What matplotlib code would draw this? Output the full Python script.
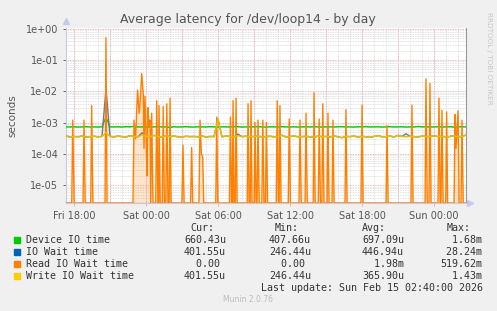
import numpy as np
import matplotlib
matplotlib.use("Agg")
import matplotlib.pyplot as plt
from matplotlib.ticker import NullFormatter

# time axis: hours since Fri 17:20, 5 min per pixel, 400 px wide
t_end = 33.333
tick_hours = [0.667, 6.667, 12.667, 18.667, 24.667, 30.667]
tick_labels = ["Fri 18:00", "Sat 00:00", "Sat 06:00", "Sat 12:00", "Sat 18:00", "Sun 00:00"]

# device io time / write io wait, sampled every 20 minutes (microseconds)
device_us = [
    730, 725, 735, 720, 730, 740, 725, 730, 720, 735,
    1500, 730, 725, 735, 720, 740, 730, 760, 725, 730,
    735, 720, 730, 745, 725, 730, 700, 735, 725, 730,
    740, 725, 720, 735, 730, 725, 740, 730, 720, 735,
    730, 725, 735, 740, 720, 730, 725, 735, 745, 730,
    720, 735, 730, 725, 740, 730, 725, 735, 720, 730,
    735, 725, 740, 730, 720, 735, 730, 725, 735, 740,
    725, 730, 720, 735, 730, 745, 725, 730, 735, 720,
    730, 740, 725, 730, 735, 720, 730, 725, 750, 730,
    735, 720, 730, 740, 725, 730, 735, 720, 730, 740,
    725]
write_us = [
    380, 340, 360, 350, 370, 345, 355, 365, 350, 360,
    480, 360, 350, 370, 355, 345, 380, 360, 350, 400,
    370, 355, 390, 360, 340, 380, 355, 370, 350, 345,
    365, 355, 360, 350, 375, 340, 360, 355, 1300, 350,
    370, 360, 345, 380, 355, 365, 350, 360, 370, 345,
    355, 365, 350, 360, 395, 345, 360, 370, 350, 355,
    365, 350, 340, 370, 355, 360, 345, 375, 350, 330,
    360, 355, 370, 345, 365, 350, 340, 360, 385, 350,
    355, 370, 345, 390, 360, 350, 365, 355, 345, 370,
    360, 350, 380, 355, 365, 345, 360, 375, 350, 360,
    400]
# io wait follows write wait except where reads dominate
iowait_us = list(write_us)
iowait_us[10] = 12000
iowait_us[19] = 470
iowait_us[43] = 430
iowait_us[85] = 440

# read io wait: mostly zero with spikes (hour, seconds)
read_t = [0.0, 0.48, 0.56, 0.68, 1.42, 1.5, 1.6, 2.06, 2.14, 2.24,
          3.25, 3.33, 3.42, 5.58, 5.67, 5.8, 5.96, 6.1, 6.17, 6.31,
          6.44, 6.5, 6.58, 6.68, 6.75, 6.83, 6.92, 7.0, 7.06, 7.14,
          7.25, 7.48, 7.56, 7.66, 7.72, 7.75, 7.85, 8.02, 8.1, 8.2,
          8.32, 8.4, 8.5, 8.6, 8.67, 8.76, 9.66, 9.75, 9.84, 10.38,
          10.47, 10.56, 11.08, 11.17, 11.28, 11.39, 11.48, 12.48, 12.56, 12.65,
          13.62, 13.7, 13.8, 13.86, 13.92, 14.0, 14.1, 14.17, 14.26, 15.1,
          15.17, 15.26, 15.35, 15.42, 15.5, 15.68, 15.75, 15.84, 15.92, 16.0,
          16.1, 16.32, 16.4, 16.5, 16.62, 16.7, 16.8, 17.52, 17.6, 17.7,
          17.76, 17.83, 17.92, 18.52, 18.6, 18.7, 19.42, 19.5, 19.6, 19.92,
          20.0, 20.1, 20.6, 20.67, 20.76, 21.02, 21.1, 21.2, 21.32, 21.4,
          21.5, 21.76, 21.83, 21.92, 22.17, 22.25, 22.34, 23.25, 23.33, 23.42,
          24.58, 24.67, 24.76, 26.67, 26.75, 26.84, 28.75, 28.83, 28.92, 29.92,
          30.0, 30.1, 30.25, 30.33, 30.42, 31.0, 31.08, 31.18, 31.25, 31.33,
          31.42, 31.64, 31.72, 31.8, 32.34, 32.42, 32.5, 32.67, 32.76, 32.92,
          33.0, 33.1, 33.333]
read_v = [0, 0, 1.2e-3, 0, 0, 1.2e-3, 0, 0, 3.5e-3, 0,
          0, 0.52, 0, 0, 1.2e-3, 3e-4, 1.1e-2, 2e-3, 4e-3, 3.7e-2,
          8e-3, 1.5e-4, 7e-3, 3e-4, 2e-5, 3e-3, 8e-4, 1.2e-3, 0, 2e-3,
          0, 0, 5e-3, 0, 0, 3.5e-3, 0, 0, 3.3e-3, 0,
          0, 4e-3, 0, 0, 6e-3, 0, 0, 1.9e-4, 0, 0,
          1.6e-4, 0, 0, 1.2e-3, 1e-4, 8e-5, 0, 0, 1.5e-3, 0,
          0, 1.5e-3, 0, 0, 5e-3, 0, 0, 6e-3, 0, 0,
          4e-3, 0, 0, 5e-3, 0, 0, 1e-3, 0, 0, 1.2e-3,
          0, 0, 1.2e-3, 0, 0, 1e-3, 0, 0, 5e-3, 0,
          0, 3.5e-3, 0, 0, 1.3e-3, 0, 0, 1.2e-3, 0, 0,
          2e-3, 0, 0, 9e-3, 0, 0, 1.3e-3, 0, 0, 4e-3,
          0, 0, 2e-3, 0, 0, 1.2e-3, 0, 0, 2.6e-3, 0,
          0, 3.6e-3, 0, 0, 8e-4, 0, 0, 3.6e-3, 0, 0,
          2.5e-2, 0, 0, 1.8e-2, 0, 0, 6e-3, 0, 0, 2.5e-3,
          0, 0, 2.2e-3, 0, 0, 1.8e-3, 1.5e-4, 2.4e-3, 0, 0,
          1.2e-3, 0, 0]

legend_names = ["Device IO time", "IO Wait time", "Read IO Wait time", "Write IO Wait time"]
legend_colors = ["#00CC00", "#0066B3", "#FF8000", "#FFCC00"]
cur_vals = ["660.43u", "401.55u", "0.00 ", "401.55u"]
min_vals = ["407.66u", "246.44u", "0.00 ", "246.44u"]
avg_vals = ["697.09u", "446.94u", "1.98m", "365.90u"]
max_vals = ["1.68m", "28.24m", "519.62m", "1.43m"]

W, H = 497, 311
ybot, ytop = 2.7e-6, 1.05

fig = plt.figure(figsize=(W / 100, H / 100), dpi=100, facecolor="#F0F0F0")
ax = fig.add_axes([66 / W, 1 - 203 / H, 400 / W, 175 / H])
ax.set_facecolor("white")
ax.set_yscale("log")
ax.set_xlim(0, t_end)
ax.set_ylim(ybot, ytop)

# grid like rrdtool
for h in np.arange(0.667, t_end, 1.0):
    ax.axvline(h, color="#D8D8D8", lw=0.6, ls=(0, (1, 1)), zorder=0)
for h in np.arange(0.667, t_end, 3.0):
    ax.axvline(h, color="#E8A8A8", lw=0.6, ls=(0, (1, 1)), zorder=0)
for d in range(-6, 1):
    for m in range(2, 10):
        v = m * 10.0 ** d
        if ybot < v < ytop:
            ax.axhline(v, color="#D8D8D8", lw=0.6, ls=(0, (1, 1)), zorder=0)
    if ybot < 10.0 ** d <= ytop:
        ax.axhline(10.0 ** d, color="#E8A8A8", lw=0.6, ls=(0, (1, 1)), zorder=0)

t20 = np.arange(len(device_us)) / 3.0
ax.plot(t20, np.array(device_us) * 1e-6, color=legend_colors[0], lw=1.0, zorder=3)
ax.plot(t20, np.array(iowait_us) * 1e-6, color="#6A7A90", lw=1.0, zorder=3)
rv = np.array(read_v, dtype=float)
rv = np.where(rv > 0, rv, ybot)
ax.fill_between(read_t, rv, ybot, color="#FF8000", alpha=0.2, lw=0, zorder=2)
ax.plot(read_t, rv, color=legend_colors[2], lw=1.0, zorder=4)
ax.plot(t20, np.array(write_us) * 1e-6, color="#E8BE00", lw=1.1, zorder=5)

ax.set_xticks(tick_hours)
ax.set_xticklabels(tick_labels)
ax.set_yticks([10.0 ** d for d in range(-5, 1)])
ax.set_yticklabels(["1e-05", "1e-04", "1e-03", "1e-02", "1e-01", "1e+00"])
ax.yaxis.set_minor_formatter(NullFormatter())
ax.tick_params(axis="both", labelsize=7, colors="#555555", length=2, width=0.6)
ax.tick_params(axis="x", color="#E8A8A8")
ax.tick_params(axis="y", which="minor", length=0)
ax.set_ylabel("seconds", fontsize=7.5, color="#555555", labelpad=6)

ax.spines["top"].set_visible(False)
ax.spines["left"].set_color("#C8C8E0")
ax.spines["bottom"].set_color("#C8C8E0")
ax.spines["right"].set_color("#999999")
for s in ax.spines.values():
    s.set_linewidth(0.8)
ax.plot([0], [1.04], transform=ax.transAxes, marker="^", ms=4, color="#C8C8F0", clip_on=False)
ax.plot([1.01], [0], transform=ax.transAxes, marker=">", ms=4, color="#C8C8F0", clip_on=False)

fig.text(248 / W, 1 - 20 / H, "Average latency for /dev/loop14 - by day",
         ha="center", va="center", fontsize=9, color="#555555")
fig.text(489 / W, 1 - 58 / H, "RRDTOOL / TOBI OETIKER", rotation=270,
         ha="center", va="center", fontsize=5.2, color="#C8C8C8")

mono = "DejaVu Sans Mono"
fs = 7.2
for x, lab in zip([190, 275, 362, 447], ["Cur:", "Min:", "Avg:", "Max:"]):
    fig.text(x / W, 1 - 228 / H, lab, fontsize=fs, family=mono, color="#333333", va="center")
for i, name in enumerate(legend_names):
    y = 1 - (240 + 12 * i) / H
    fig.patches.append(plt.Rectangle((14 / W, y - 3 / H), 6 / W, 6 / H,
                                     transform=fig.transFigure, color=legend_colors[i]))
    fig.text(26 / W, y, name, fontsize=fs, family=mono, color="#333333", va="center")
    for x, col in zip([184, 269, 362, 440], [cur_vals, min_vals, avg_vals, max_vals]):
        fig.text(x / W, y, f"{col[i]:>7}", fontsize=fs, family=mono, color="#333333", va="center")
fig.text(483 / W, 1 - 288 / H, "Last update: Sun Feb 15 02:40:00 2026",
         ha="right", fontsize=fs, family=mono, color="#333333", va="center")
fig.text(248 / W, 1 - 300 / H, "Munin 2.0.76", ha="center", va="center",
         fontsize=5.5, color="#BBBBBB")

fig.savefig("out.png", dpi=100, facecolor=fig.get_facecolor())
